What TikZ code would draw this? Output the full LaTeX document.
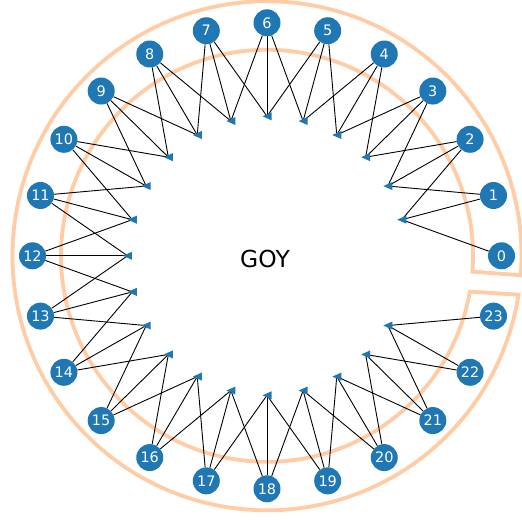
\documentclass[tikz,border=0pt]{standalone}
\usepackage{fontspec}
\setmainfont{DejaVu Sans}
\definecolor{shellblue}{HTML}{1F77B4}
\definecolor{hullpeach}{RGB}{255,204,165}
\begin{document}
\begin{tikzpicture}[x=1bp,y=1bp,
  shell/.style={circle, fill=shellblue, minimum size=27bp, inner sep=0pt,
                text=white, font=\fontsize{14.5}{16}\selectfont},
  link/.style={draw=black, line width=0.9bp},
  hull/.style={draw=hullpeach, line width=3.8bp, line join=miter},
  tip/.style={fill=shellblue}]
\useasboundingbox (-267,255.8) rectangle (255,-264.2);

% open ring around the shells
\draw[hull] (-4.4:254.5) arc[start angle=-4.4, end angle=351.2, radius=254.5]
  -- (350:206) arc[start angle=350, end angle=-4.4, radius=206] -- cycle;

% shells on the outer circle
\foreach \k in {0,...,23}
  \node[shell] (n\k) at ({234.5*cos(15*\k)},{233*sin(15*\k)}) {\k};

% triad markers on the inner circle
\foreach \k in {1,...,22}
  \coordinate (i\k) at (15*\k:139.5);

% each triad k couples shells k-1, k, k+1
\foreach \k in {1,...,22}{
  \pgfmathtruncatemacro{\km}{\k-1}
  \pgfmathtruncatemacro{\kp}{\k+1}
  \draw[link] (n\km) -- (i\k);
  \draw[link] (n\k) -- (i\k);
  \draw[link] (n\kp) -- (i\k);
}
\foreach \k in {1,...,22}
  \fill[tip] (i\k) ++(-4.5,0) -- ++(9,4) -- ++(0,-8) -- cycle;

\node[font=\fontsize{23.5}{26}\selectfont] (title) at (-2,-3.5) {GOY};
\end{tikzpicture}
\end{document}
